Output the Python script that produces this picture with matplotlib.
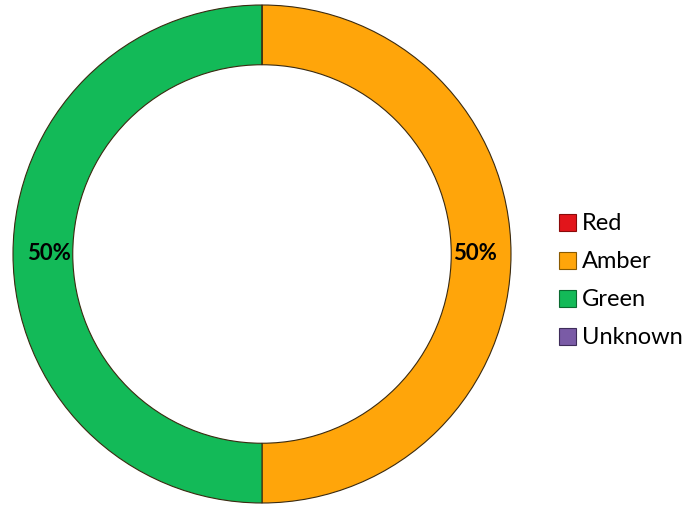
import matplotlib
matplotlib.use("Agg")

import matplotlib.pyplot as plt
from matplotlib.patches import Patch

# RAG status breakdown
categories = ["Red", "Amber", "Green", "Unknown"]
values = [0, 50, 50, 0]
colors = ["#E2151B", "#FFA50A", "#13BA58", "#7A5BA6"]
edge_colors = ["#8A0A0A", "#8A5A00", "#0A6A30", "#3E2C5A"]

plt.rcParams["font.family"] = ["Lato", "DejaVu Sans"]

fig = plt.figure(figsize=(6.84, 5.07), dpi=100)
r_px = 249
ax = fig.add_axes([(262 - r_px) / 684, (253 - r_px) / 507, 2 * r_px / 684, 2 * r_px / 507])


def fmt(pct):
    return f"{pct:.0f}%" if pct > 0 else ""


wedges, _, autotexts = ax.pie(
    values,
    colors=colors,
    startangle=90,
    counterclock=False,
    radius=1.0,
    autopct=fmt,
    pctdistance=0.855,
    wedgeprops=dict(width=0.24, edgecolor="#3a2a10", linewidth=0.8),
    textprops=dict(fontsize=16, fontweight="bold", color="black"),
)
ax.set_xlim(-1, 1)
ax.set_ylim(-1, 1)
ax.set_aspect("equal")
ax.axis("off")

handles = [Patch(facecolor=c, edgecolor=e, linewidth=0.8) for c, e in zip(colors, edge_colors)]
fig.legend(
    handles, categories,
    loc="center left",
    bbox_to_anchor=(542 / 684, 1 - 281 / 507),
    frameon=False,
    fontsize=17,
    handlelength=0.75,
    handleheight=0.7,
    handletextpad=0.25,
    labelspacing=0.72,
    borderpad=0.2,
)

fig.savefig("out.png", dpi=100)
